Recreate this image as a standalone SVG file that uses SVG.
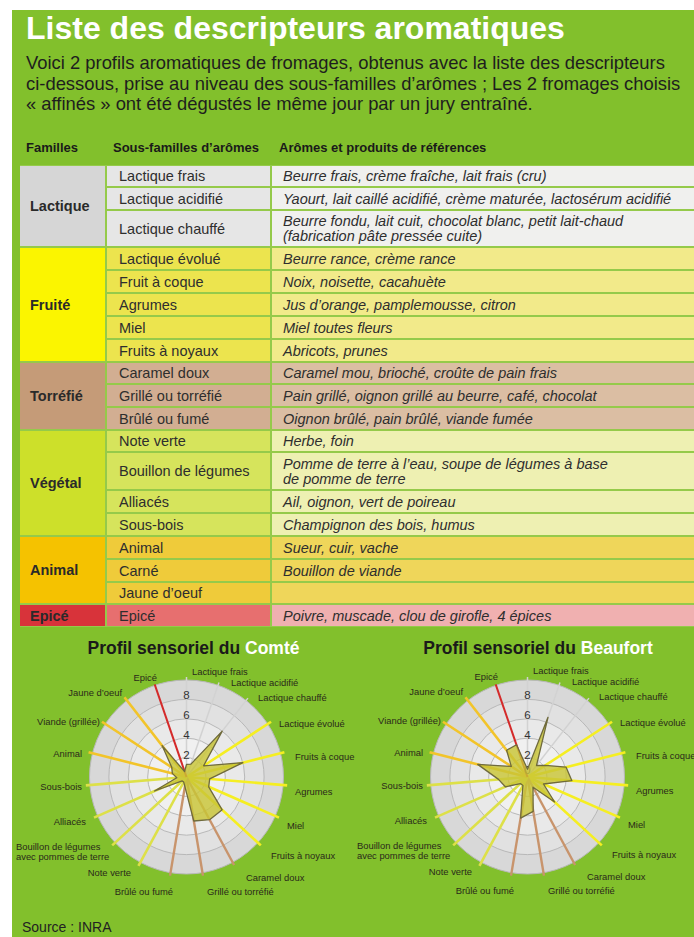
<svg xmlns="http://www.w3.org/2000/svg" width="694" height="937" viewBox="0 0 694 937">
<defs>
<style>
text{font-family:"Liberation Sans",Arial,sans-serif}
.title{font-size:32px;font-weight:bold;fill:#fff}
.para{font-size:18.4px;fill:#1e1e1e}
.hdr{font-size:13px;font-weight:bold;fill:#1a1a1a}
.fam{font-size:14.5px;font-weight:bold;fill:#2a2a2a}
.sub{font-size:14.5px;fill:#2e2e2e}
.desc{font-size:14.5px;font-style:italic;fill:#2e2e2e}
.lbl{font-size:9.4px;fill:#2a2a1a}
.end{text-anchor:end}
.num{font-size:11.5px;fill:#333;text-anchor:middle}
.ctitle{font-size:17.5px;font-weight:bold;fill:#1a1a1a;text-anchor:middle}
.ring{stroke:#b8b8b8;stroke-width:1}
.poly{fill:#c8c436;fill-opacity:.82;stroke:#6f6a3c;stroke-width:1.3;stroke-linejoin:round}
.sl{stroke:#d2d2d2;stroke-width:1.5}
.sf{stroke:#f5ee22;stroke-width:2.6}
.st{stroke:#c8946c;stroke-width:2.4}
.sv{stroke:#dde048;stroke-width:2.6}
.sa{stroke:#f2c42a;stroke-width:2.6}
.se{stroke:#d42a2a;stroke-width:2}
</style>
<g id="disk">
<circle r="97" fill="#d8d8d8" class="ring"/>
<circle r="77.6" fill="#e1e1e1" class="ring"/>
<circle r="58.2" fill="#e9e9e9" class="ring"/>
<circle r="38.8" fill="#f0f0f0" class="ring"/>
<circle r="19.4" fill="#f8f8f8" class="ring"/>
</g>
<g id="spokes">
<line y2="-100" class="sl" transform="rotate(0)"/>
<line y2="-100" class="sl" transform="rotate(18.947)"/>
<line y2="-100" class="sl" transform="rotate(37.895)"/>
<line y2="-101" class="sf" transform="rotate(56.842)"/>
<line y2="-101" class="sf" transform="rotate(75.789)"/>
<line y2="-101" class="sf" transform="rotate(94.737)"/>
<line y2="-101" class="sf" transform="rotate(113.684)"/>
<line y2="-101" class="sf" transform="rotate(132.632)"/>
<line y2="-100" class="st" transform="rotate(151.579)"/>
<line y2="-100" class="st" transform="rotate(170.526)"/>
<line y2="-100" class="st" transform="rotate(189.474)"/>
<line y2="-101" class="sv" transform="rotate(208.421)"/>
<line y2="-101" class="sv" transform="rotate(227.368)"/>
<line y2="-101" class="sv" transform="rotate(246.316)"/>
<line y2="-101" class="sv" transform="rotate(265.263)"/>
<line y2="-101" class="sa" transform="rotate(284.211)"/>
<line y2="-101" class="sa" transform="rotate(303.158)"/>
<line y2="-101" class="sa" transform="rotate(322.105)"/>
<line y2="-98" class="se" transform="rotate(341.053)"/>
</g>
</defs>

<rect x="0" y="0" width="694" height="937" fill="#fff"/>
<rect x="12" y="10" width="682" height="927" fill="#82c02c"/>

<g id="header">
<text x="26" y="39" class="title">Liste des descripteurs aromatiques</text>
<text x="26" y="69" class="para">Voici 2 profils aromatiques de fromages, obtenus avec la liste des descripteurs</text>
<text x="26" y="89.5" class="para">ci-dessous, prise au niveau des sous-familles d’arômes ; Les 2 fromages choisis</text>
<text x="26" y="110" class="para">« affinés » ont été dégustés le même jour par un jury entraîné.</text>
<text x="26" y="152" class="hdr">Familles</text>
<text x="113" y="152" class="hdr">Sous-familles d’arômes</text>
<text x="279" y="152" class="hdr">Arômes et produits de références</text>
</g>

<g id="table">
<rect x="20" y="165" width="674" height="462" fill="#95ca4a"/>
<g id="fam-lactique">
<rect x="20" y="166" width="85" height="80" fill="#d6d6d6"/>
<rect x="107" y="166" width="163" height="20" fill="#e6e6e6"/>
<rect x="272" y="166" width="422" height="20" fill="#f0f0ee"/>
<rect x="107" y="188" width="163" height="21" fill="#e6e6e6"/>
<rect x="272" y="188" width="422" height="21" fill="#f0f0ee"/>
<rect x="107" y="211" width="163" height="35" fill="#e6e6e6"/>
<rect x="272" y="211" width="422" height="35" fill="#f0f0ee"/>
<text x="30" y="211" class="fam">Lactique</text>
<text x="119" y="181" class="sub">Lactique frais</text>
<text x="283" y="181" class="desc">Beurre frais, crème fraîche, lait frais (cru)</text>
<text x="119" y="203.5" class="sub">Lactique acidifié</text>
<text x="283" y="203.5" class="desc">Yaourt, lait caillé acidifié, crème maturée, lactosérum acidifié</text>
<text x="119" y="233.5" class="sub">Lactique chauffé</text>
<text x="283" y="226" class="desc">Beurre fondu, lait cuit, chocolat blanc, petit lait-chaud</text>
<text x="283" y="241" class="desc">(fabrication pâte pressée cuite)</text>
</g>
<g id="fam-fruite">
<rect x="20" y="248" width="85" height="113" fill="#fbf500"/>
<rect x="107" y="248" width="163" height="21" fill="#ece44e"/>
<rect x="272" y="248" width="422" height="21" fill="#f2ea8a"/>
<rect x="107" y="271" width="163" height="21" fill="#ece44e"/>
<rect x="272" y="271" width="422" height="21" fill="#f2ea8a"/>
<rect x="107" y="294" width="163" height="21" fill="#ece44e"/>
<rect x="272" y="294" width="422" height="21" fill="#f2ea8a"/>
<rect x="107" y="317" width="163" height="21" fill="#ece44e"/>
<rect x="272" y="317" width="422" height="21" fill="#f2ea8a"/>
<rect x="107" y="340" width="163" height="21" fill="#ece44e"/>
<rect x="272" y="340" width="422" height="21" fill="#f2ea8a"/>
<text x="30" y="309.5" class="fam">Fruité</text>
<text x="119" y="263.5" class="sub">Lactique évolué</text>
<text x="283" y="263.5" class="desc">Beurre rance, crème rance</text>
<text x="119" y="286.5" class="sub">Fruit à coque</text>
<text x="283" y="286.5" class="desc">Noix, noisette, cacahuète</text>
<text x="119" y="309.5" class="sub">Agrumes</text>
<text x="283" y="309.5" class="desc">Jus d’orange, pamplemousse, citron</text>
<text x="119" y="332.5" class="sub">Miel</text>
<text x="283" y="332.5" class="desc">Miel toutes fleurs</text>
<text x="119" y="355.5" class="sub">Fruits à noyaux</text>
<text x="283" y="355.5" class="desc">Abricots, prunes</text>
</g>
<g id="fam-torrefie">
<rect x="20" y="363" width="85" height="66" fill="#c59b78"/>
<rect x="107" y="363" width="163" height="20" fill="#d2ae92"/>
<rect x="272" y="363" width="422" height="20" fill="#dbbea3"/>
<rect x="107" y="385" width="163" height="21" fill="#d2ae92"/>
<rect x="272" y="385" width="422" height="21" fill="#dbbea3"/>
<rect x="107" y="408" width="163" height="21" fill="#d2ae92"/>
<rect x="272" y="408" width="422" height="21" fill="#dbbea3"/>
<text x="30" y="401" class="fam">Torréfié</text>
<text x="119" y="378" class="sub">Caramel doux</text>
<text x="283" y="378" class="desc">Caramel mou, brioché, croûte de pain frais</text>
<text x="119" y="400.5" class="sub">Grillé ou torréfié</text>
<text x="283" y="400.5" class="desc">Pain grillé, oignon grillé au beurre, café, chocolat</text>
<text x="119" y="423.5" class="sub">Brûlé ou fumé</text>
<text x="283" y="423.5" class="desc">Oignon brûlé, pain brûlé, viande fumée</text>
</g>
<g id="fam-vegetal">
<rect x="20" y="431" width="85" height="104" fill="#cde02a"/>
<rect x="107" y="431" width="163" height="20" fill="#d6e45c"/>
<rect x="272" y="431" width="422" height="20" fill="#eef0b2"/>
<rect x="107" y="453" width="163" height="36" fill="#d6e45c"/>
<rect x="272" y="453" width="422" height="36" fill="#eef0b2"/>
<rect x="107" y="491" width="163" height="21" fill="#d6e45c"/>
<rect x="272" y="491" width="422" height="21" fill="#eef0b2"/>
<rect x="107" y="514" width="163" height="21" fill="#d6e45c"/>
<rect x="272" y="514" width="422" height="21" fill="#eef0b2"/>
<text x="30" y="488" class="fam">Végétal</text>
<text x="119" y="446" class="sub">Note verte</text>
<text x="283" y="446" class="desc">Herbe, foin</text>
<text x="119" y="476" class="sub">Bouillon de légumes</text>
<text x="283" y="469" class="desc">Pomme de terre à l’eau, soupe de légumes à base</text>
<text x="283" y="484" class="desc">de pomme de terre</text>
<text x="119" y="506.5" class="sub">Alliacés</text>
<text x="283" y="506.5" class="desc">Ail, oignon, vert de poireau</text>
<text x="119" y="529.5" class="sub">Sous-bois</text>
<text x="283" y="529.5" class="desc">Champignon des bois, humus</text>
</g>
<g id="fam-animal">
<rect x="20" y="537" width="85" height="66" fill="#f5c200"/>
<rect x="107" y="537" width="163" height="21" fill="#efcb3a"/>
<rect x="272" y="537" width="422" height="21" fill="#efd65a"/>
<rect x="107" y="560" width="163" height="21" fill="#efcb3a"/>
<rect x="272" y="560" width="422" height="21" fill="#efd65a"/>
<rect x="107" y="583" width="163" height="20" fill="#efcb3a"/>
<rect x="272" y="583" width="422" height="20" fill="#efd65a"/>
<text x="30" y="575" class="fam">Animal</text>
<text x="119" y="552.5" class="sub">Animal</text>
<text x="283" y="552.5" class="desc">Sueur, cuir, vache</text>
<text x="119" y="575.5" class="sub">Carné</text>
<text x="283" y="575.5" class="desc">Bouillon de viande</text>
<text x="119" y="598" class="sub">Jaune d’oeuf</text>
</g>
<g id="fam-epice">
<rect x="20" y="605" width="85" height="21" fill="#d8333a"/>
<rect x="107" y="605" width="163" height="21" fill="#e76f6f"/>
<rect x="272" y="605" width="422" height="21" fill="#f0b0b0"/>
<text x="30" y="620.5" class="fam">Epicé</text>
<text x="119" y="620.5" class="sub">Epicé</text>
<text x="283" y="620.5" class="desc">Poivre, muscade, clou de girofle, 4 épices</text>
</g>
</g>

<g id="chart-comte">
<text x="193.5" y="654" class="ctitle">Profil sensoriel du <tspan fill="#fff">Comté</tspan></text>
<g transform="translate(186.5,777)">
<use href="#disk"/>
<use href="#spokes"/>
<polygon class="poly" points="0,-12.6 4.4,-12.9 35.7,-45.9 17.1,-11.2 56.4,-14.3 23.2,1.9 22.2,9.8 35.7,32.8 23.1,42.7 7.3,44 -1.6,9.6 -2.8,5.1 -4.3,3.9 -32,14 -9.7,0.8 -14.2,-3.6 -14.7,-9.6 -24.4,-31.4 -1.9,-5.5"/>
<text y="-78" class="num">8</text>
<text y="-58" class="num">6</text>
<text y="-38.5" class="num">4</text>
<text y="-18.5" class="num">2</text>
</g>
<g id="labels-comte">
<text x="157" y="681" class="lbl end">Epicé</text>
<text x="192" y="675" class="lbl">Lactique frais</text>
<text x="231" y="686" class="lbl">Lactique acidifié</text>
<text x="258" y="701" class="lbl">Lactique chauffé</text>
<text x="279" y="727" class="lbl">Lactique évolué</text>
<text x="295" y="760" class="lbl">Fruits à coque</text>
<text x="295" y="795" class="lbl">Agrumes</text>
<text x="287" y="829" class="lbl">Miel</text>
<text x="271" y="859" class="lbl">Fruits à noyaux</text>
<text x="246" y="881" class="lbl">Caramel doux</text>
<text x="207" y="895" class="lbl">Grillé ou torréfié</text>
<text x="173" y="895" class="lbl end">Brûlé ou fumé</text>
<text x="131" y="876" class="lbl end">Note verte</text>
<text x="16" y="850" class="lbl">Bouillon de légumes</text>
<text x="16" y="859.5" class="lbl">avec pommes de terre</text>
<text x="86" y="825" class="lbl end">Alliacés</text>
<text x="82" y="790" class="lbl end">Sous-bois</text>
<text x="82" y="757" class="lbl end">Animal</text>
<text x="100" y="725" class="lbl end">Viande (grillée)</text>
<text x="122" y="696" class="lbl end">Jaune d’oeuf</text>
</g>
</g>

<g id="chart-beaufort">
<text x="538" y="654" class="ctitle">Profil sensoriel du <tspan fill="#fff">Beaufort</tspan></text>
<g transform="translate(527.5,777)">
<use href="#disk"/>
<use href="#spokes"/>
<text y="-3" class="num">0</text>
<polygon class="poly" points="0,-7.8 20.5,-59.7 9,-11.5 17.9,-11.7 38.6,-9.8 44.4,3.7 16,7 27.1,25 5.5,10.2 5.7,34.4 -6.9,41.1 -4.6,8.5 -7.1,6.6 -22.2,9.8 -29,2.4 -49.8,-12.6 -16.2,-10.6 -20.9,-26.8 -11,-32.2"/>
<text y="-78" class="num">8</text>
<text y="-58" class="num">6</text>
<text y="-38.5" class="num">4</text>
<text y="-18.5" class="num">2</text>
</g>
<g id="labels-beaufort">
<text x="498" y="680" class="lbl end">Epicé</text>
<text x="533" y="674" class="lbl">Lactique frais</text>
<text x="572" y="685" class="lbl">Lactique acidifié</text>
<text x="599" y="700" class="lbl">Lactique chauffé</text>
<text x="620" y="726" class="lbl">Lactique évolué</text>
<text x="636" y="759" class="lbl">Fruits à coque</text>
<text x="636" y="794" class="lbl">Agrumes</text>
<text x="628" y="828" class="lbl">Miel</text>
<text x="612" y="858" class="lbl">Fruits à noyaux</text>
<text x="587" y="880" class="lbl">Caramel doux</text>
<text x="548" y="894" class="lbl">Grillé ou torréfié</text>
<text x="514" y="894" class="lbl end">Brûlé ou fumé</text>
<text x="472" y="875" class="lbl end">Note verte</text>
<text x="357" y="849" class="lbl">Bouillon de légumes</text>
<text x="357" y="858.5" class="lbl">avec pommes de terre</text>
<text x="427" y="824" class="lbl end">Alliacés</text>
<text x="423" y="789" class="lbl end">Sous-bois</text>
<text x="423" y="756" class="lbl end">Animal</text>
<text x="441" y="724" class="lbl end">Viande (grillée)</text>
<text x="463" y="695" class="lbl end">Jaune d’oeuf</text>
</g>
</g>

<text x="22" y="932" style="font-size:14px;fill:#222">Source : INRA</text>
</svg>
